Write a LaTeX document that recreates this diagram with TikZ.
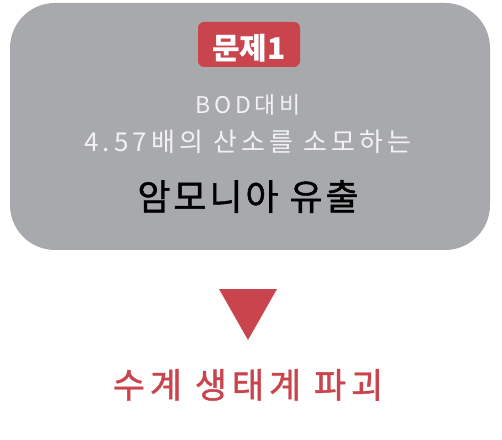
\documentclass[tikz,border=0pt]{standalone}
\usepackage{fontspec}
\newfontfamily\krfont{Noto Sans CJK KR}
\newfontfamily\krspaced[LetterSpace=16]{Noto Sans CJK KR}
\newfontfamily\krheavy[LetterSpace=8, FakeBold=1.2]{Noto Sans CJK KR}
\newfontfamily\krwide[LetterSpace=14, FakeBold=1.2]{Noto Sans CJK KR}
\definecolor{boxgray}{HTML}{A8A9AD}
\definecolor{probred}{HTML}{C9444D}
\definecolor{softwhite}{HTML}{F2F2F2}
\tikzset{
  badge/.style={fill=probred, rounded corners=6pt, minimum width=102pt, minimum height=45pt, inner sep=0pt},
  label/.style={anchor=base, inner sep=0pt}
}
\begin{document}
\begin{tikzpicture}[x=1pt, y=1pt]
    \useasboundingbox (0,0) rectangle (502,439);
    % the problem box
    \fill[boxgray, rounded corners=45pt] (10,189) rectangle (490,436);
    \node[badge] (badge) at (249,394.5) {};
    \node[label, text=white] (title) at (249,379) {\krfont\bfseries\fontsize{30}{36}\selectfont 문제1};
    \node[label, text=softwhite] (bod) at (248,325) {\krspaced\fontsize{23}{27}\selectfont BOD대비};
    \node[label, text=softwhite] (oxygen) at (248,287) {\krspaced\fontsize{26}{30}\selectfont 4.57배의 산소를 소모하는};
    \node[label, text=black] (ammonia) at (248,229) {\krheavy\fontsize{36}{42}\selectfont 암모니아 유출};

    % the arrow
    \fill[probred] (219,150) -- (277,150) -- (248,99) -- cycle;
    \node[label, text=probred] (result) at (248,41) {\krwide\fontsize{35}{40}\selectfont 수계 생태계 파괴};
\end{tikzpicture}
\end{document}
